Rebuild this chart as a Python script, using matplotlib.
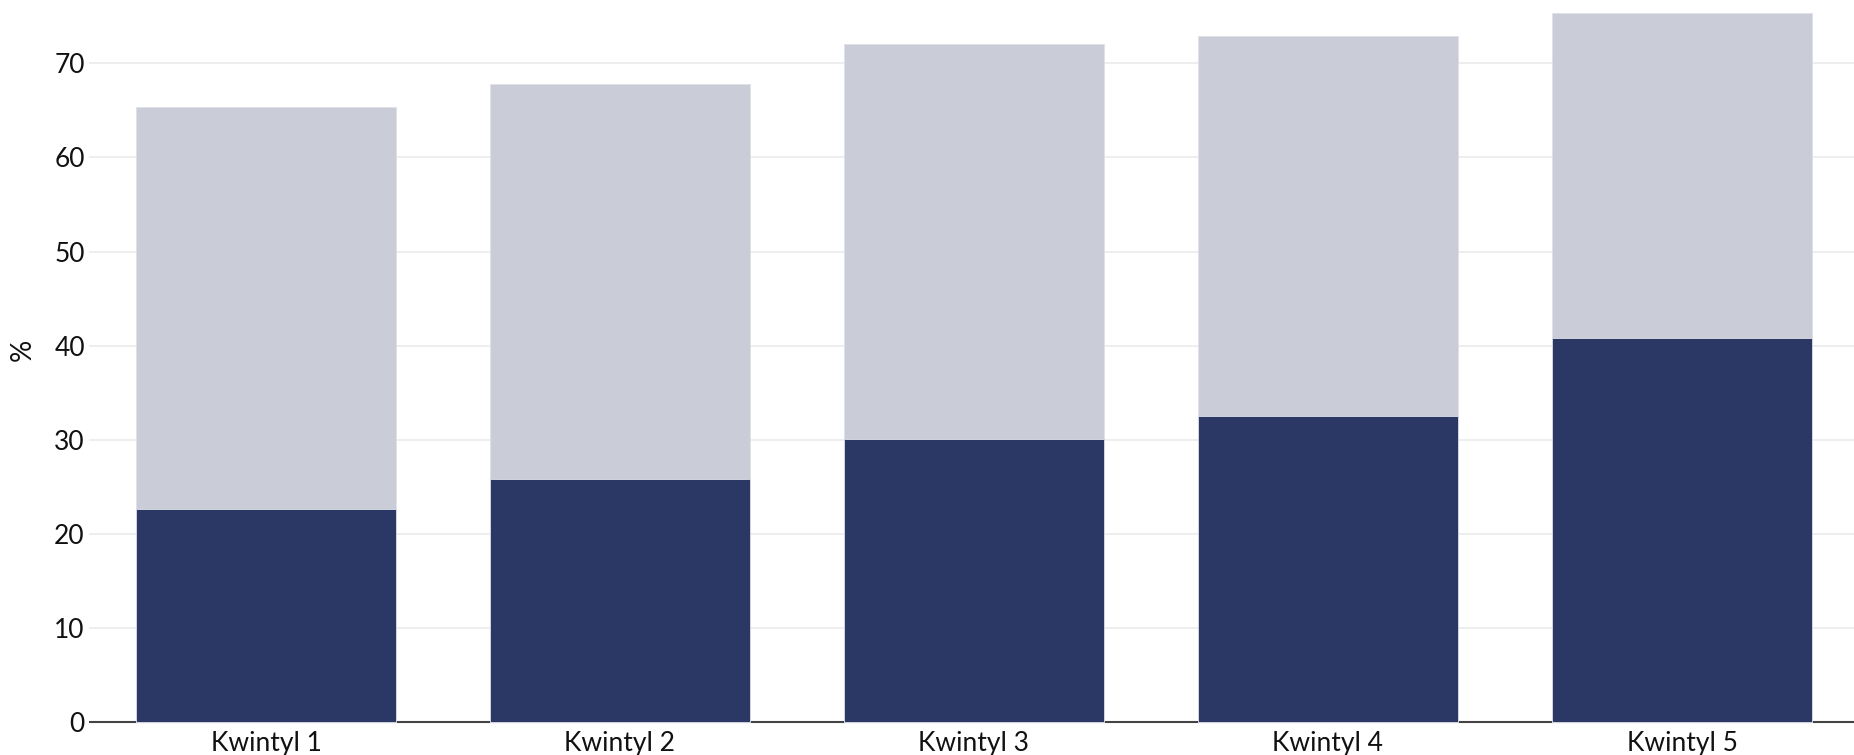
import numpy as np
import matplotlib.pyplot as plt

plt.rcParams["font.family"] = ["Lato", "DejaVu Sans"]

categories = ["Kwintyl 1", "Kwintyl 2", "Kwintyl 3", "Kwintyl 4", "Kwintyl 5"]
total = [65.4, 67.8, 72.1, 72.9, 75.4]
dark_part = [22.7, 25.8, 30.1, 32.5, 40.8]
yticks = [0, 10, 20, 30, 40, 50, 60, 70]

navy = "#2b3764"
grey = "#caccd8"

fig = plt.figure(figsize=(18.54, 7.55), dpi=100)
ax = fig.add_axes([89/1854, 30/755, 1 - 89/1854, 725/755])

x = np.arange(len(categories))
ax.bar(x, total, width=0.737, color=grey, edgecolor="#dfe0e8", linewidth=0.6, zorder=3)
ax.bar(x, dark_part, width=0.737, color=navy, edgecolor="#dfe0e8", linewidth=0.6, zorder=3)

ax.set_xlim(-0.5, 4.486)
ax.set_ylim(-0.29, 76.73)
ax.set_yticks(yticks)
ax.set_xticks(x)
ax.set_xticklabels(categories)
ax.tick_params(axis="both", length=0, labelsize=19, colors="#111111")
ax.tick_params(axis="y", pad=3)
ax.tick_params(axis="x", pad=4)

ax.grid(axis="y", color="#ebebeb", linewidth=1.2, zorder=0)
ax.axhline(0, color="#444444", linewidth=1.5, zorder=2)
for s in ax.spines.values():
    s.set_visible(False)

fig.text(22.7/1854, 1 - 350/755, "%", rotation=90, ha="center", va="center",
         fontsize=20, color="#111111")

fig.savefig("out.png", dpi=100)
